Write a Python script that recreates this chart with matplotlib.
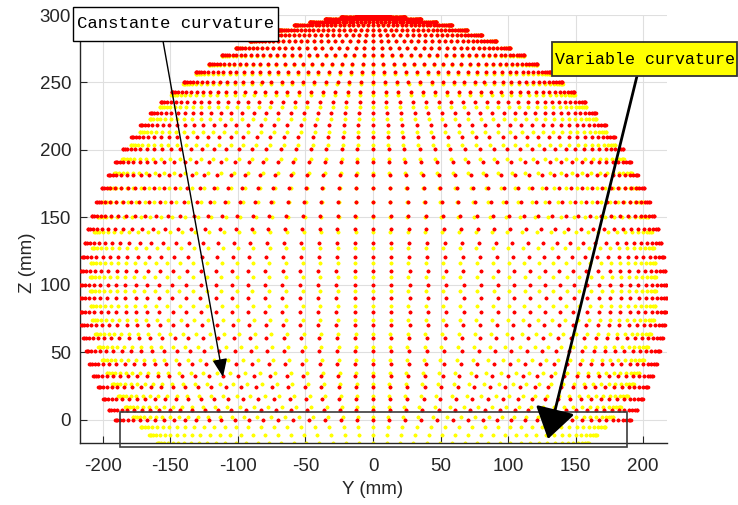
import numpy as np
import matplotlib
matplotlib.use("Agg")
import matplotlib.pyplot as plt
from matplotlib.patches import Rectangle, FancyArrowPatch

plt.rcParams["axes.unicode_minus"] = False

# ---- data -----------------------------------------------------------------
# Each row = one bending step of the backbone: tip height Z (mm) and radial reach r (mm).
# Constant-curvature model (red)
red_z = [300.0, 299.69, 298.77, 297.23, 295.09, 292.35, 289.02, 285.11, 280.65, 275.63,
         270.09, 264.05, 257.52, 250.53, 243.10, 235.26, 227.05, 218.48, 209.59, 200.42,
         190.99, 181.33, 171.49, 161.49, 151.37, 141.16, 130.90, 120.62, 110.36, 100.16,
         90.03, 80.02, 70.16, 60.48, 51.00, 41.76, 32.79, 24.10, 15.72, 7.68, 0.0]
red_r = [0.0, 11.78, 23.51, 35.18, 46.74, 58.15, 69.39, 80.41, 91.19, 101.69,
         111.88, 121.73, 131.21, 140.30, 148.97, 157.20, 164.96, 172.24, 179.01, 185.26,
         190.99, 196.16, 200.78, 204.84, 208.34, 211.26, 213.61, 215.39, 216.60, 217.26,
         217.36, 216.91, 215.93, 214.44, 212.44, 209.96, 207.01, 203.62, 199.80, 195.58, 190.99]
# Variable-curvature model (yellow)
yellow_z = [300.0, 299.7, 298.8, 297.2, 295.1, 292.3, 288.9, 284.95, 280.4, 275.2,
            269.4, 263.1, 256.2, 248.7, 240.6, 232.0, 222.8, 213.3, 203.4, 193.0,
            182.6, 172.0, 161.3, 150.0, 138.9, 127.6, 116.6, 105.6, 95.2, 84.6,
            74.2, 63.8, 54.0, 44.5, 35.1, 26.5, 17.8, 9.4, 1.9, -5.0, -11.4, -16.9]
yellow_r = [0.0, 11.78, 23.51, 35.18, 46.74, 58.15, 69.39, 80.41, 91.19, 101.69,
            111.88, 121.73, 131.21, 140.6, 149.5, 157.7, 165.5, 172.7, 179.5, 185.8,
            191.5, 196.2, 200.3, 203.8, 206.3, 208.0, 209.0, 209.4, 209.6, 209.0,
            207.8, 205.9, 203.6, 200.6, 197.1, 193.1, 188.5, 183.4, 178.0, 172.1, 165.8, 159.6]
n_directions = 100          # bending-direction samples per row (3.6 deg apart)

x_ticks = [-200, -150, -100, -50, 0, 50, 100, 150, 200]
y_ticks = [0, 50, 100, 150, 200, 250, 300]
x_label = "Y (mm)"
y_label = "Z (mm)"
label_const = "Canstante curvature"
label_var = "Variable curvature"


def project(zs, rs):
    phi = np.deg2rad(np.arange(n_directions) * 360.0 / n_directions)
    Y, Z = [], []
    for z, r in zip(zs, rs):
        Y.append(r * np.cos(phi))
        Z.append(np.full(phi.shape, z))
    return np.concatenate(Y), np.concatenate(Z)


yy, zy = project(yellow_z, yellow_r)
yr, zr = project(red_z, red_r)

W, H = 738, 505
fig = plt.figure(figsize=(W / 100, H / 100), dpi=100)
ax_l, ax_r, ax_t, ax_b = 79.5, 666.5, 15.0, 442.7
ax = fig.add_axes([ax_l / W, (H - ax_b) / H, (ax_r - ax_l) / W, (ax_b - ax_t) / H])

ax.scatter(yy, zy, s=7, c="#ffff00", linewidths=0, zorder=2)
ax.scatter(yr, zr, s=7, c="#ff0000", linewidths=0, zorder=3)

xmax = max(max(red_r), max(yellow_r))
ax.set_xlim(-xmax, xmax)
ax.set_ylim(min(min(red_z), min(yellow_z)), max(max(red_z), max(yellow_z)))
ax.set_xticks(x_ticks)
ax.set_yticks(y_ticks)
ax.grid(True, color="#dfdfdf", linewidth=0.8)
ax.set_axisbelow(True)
for s in ("top", "right"):
    ax.spines[s].set_visible(False)
for s in ("left", "bottom"):
    ax.spines[s].set_color("#262626")
    ax.spines[s].set_linewidth(1.0)
ax.tick_params(direction="in", length=5, width=0.8, color="#262626",
               labelsize=13.5, labelcolor="#262626")
ax.tick_params(axis="x", pad=11)
ax.tick_params(axis="y", pad=6)
for lab in ax.get_xticklabels() + ax.get_yticklabels():
    lab.set_fontfamily("Liberation Sans")


def fx(px):
    return px / W


def fy(py):
    return (H - py) / H


fig.text(fx(372.7), fy(490), x_label, fontsize=13.5, family="Liberation Sans",
         color="#262626", ha="center", va="center")
fig.text(fx(28), fy(263), y_label, fontsize=13.5, family="Liberation Sans",
         color="#262626", ha="center", va="center", rotation=90)

# Constant curvature label box + arrow
fig.add_artist(Rectangle((fx(73), fy(41)), (278 - 73) / W, (41 - 7) / H,
                         transform=fig.transFigure, fc="white", ec="black", lw=1.0, zorder=10))
fig.text(fx(77), fy(24), label_const, family="Liberation Mono", fontsize=12.4,
         ha="left", va="center", color="black", zorder=11)
fig.add_artist(FancyArrowPatch(
    (fx(163), fy(41)), (fx(223), fy(377)), transform=fig.transFigure,
    arrowstyle="-|>,head_length=1.1,head_width=0.45", mutation_scale=10,
    color="black", lw=1.0, shrinkA=0, shrinkB=0, zorder=9))

# Variable curvature label box + arrow
fig.add_artist(Rectangle((fx(552), fy(76)), (737 - 552) / W, (76 - 42) / H,
                         transform=fig.transFigure, fc="#ffff00", ec="#333333", lw=1.3, zorder=10))
fig.text(fx(555), fy(59), label_var, family="Liberation Mono", fontsize=12.0,
         ha="left", va="center", color="black", zorder=11)
fig.add_artist(FancyArrowPatch(
    (fx(637), fy(76)), (fx(548), fy(439)), transform=fig.transFigure,
    arrowstyle="-|>,head_length=1.9,head_width=1.25", mutation_scale=10,
    color="black", lw=2.0, shrinkA=0, shrinkB=0, zorder=9))

# Box around the lower region
fig.add_artist(Rectangle((fx(120), fy(447)), (627 - 120) / W, (447 - 412) / H,
                         transform=fig.transFigure, fill=False, ec="#3c3c3c", lw=1.2, zorder=8))

fig.savefig("out.png", dpi=100)
